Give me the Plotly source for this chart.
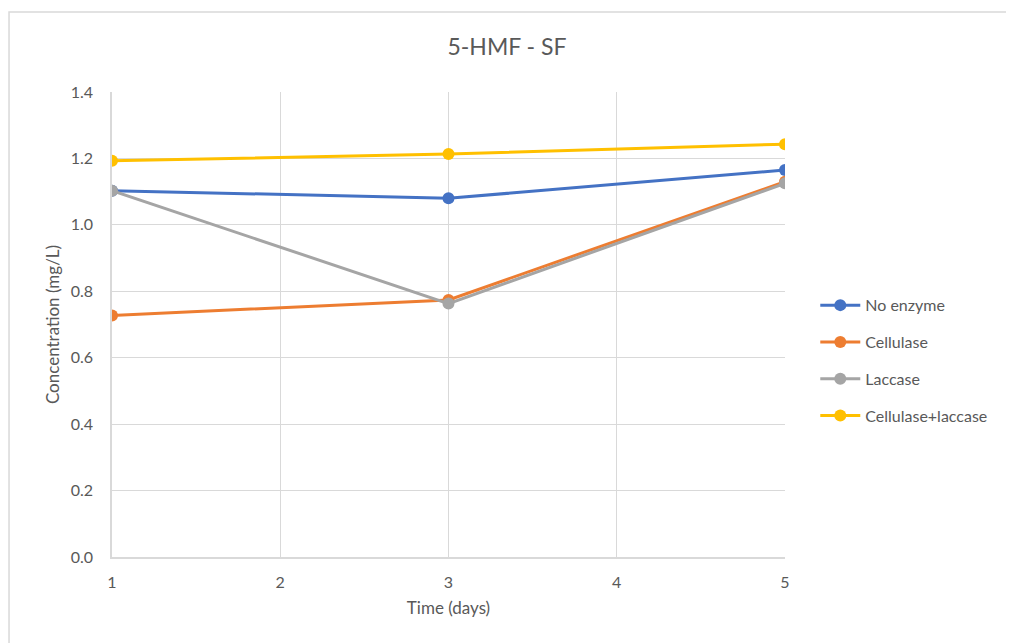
import plotly.graph_objects as go

days = [1, 3, 5]
no_enzyme = [1.103, 1.080, 1.165]
cellulase = [0.727, 0.774, 1.130]
laccase = [1.103, 0.763, 1.125]
cell_lacc = [1.193, 1.213, 1.243]

series = [
    ("No enzyme", no_enzyme, "#4472C4"),
    ("Cellulase", cellulase, "#ED7D31"),
    ("Laccase", laccase, "#A5A5A5"),
    ("Cellulase+laccase", cell_lacc, "#FFC000"),
]

FONT = "Lato, 'Open Sans', sans-serif"
GREY = "#595959"

fig = go.Figure()
for name, vals, col in series:
    fig.add_trace(go.Scatter(
        x=days, y=vals, name=name, mode="lines+markers",
        line=dict(color=col, width=3),
        marker=dict(color=col, size=12),
        legendgroup=name,
    ))

fig.update_layout(
    width=1014, height=643,
    margin=dict(l=104, r=237, t=84, b=94),
    paper_bgcolor="white", plot_bgcolor="white",
    font=dict(family=FONT, color=GREY, size=16),
    title=dict(text="5-HMF - SF", x=(507 - 8) / 1014, xref="container", xanchor="center",
               y=1 - 39 / 643, yanchor="middle",
               font=dict(size=23, color=GREY, family=FONT)),
    xaxis=dict(range=[1, 5], tickvals=[1, 2, 3, 4, 5], showgrid=True,
               gridcolor="#D9D9D9", gridwidth=1.3, showline=True,
               linecolor="#D9D9D9", linewidth=1.5, zeroline=False,
               ticks="outside", ticklen=10, tickcolor="rgba(0,0,0,0)",
               tickfont=dict(size=16, color=GREY),
               title=dict(text="Time (days)", font=dict(size=17, color=GREY), standoff=12)),
    yaxis=dict(range=[0, 1.4], dtick=0.2, tickformat=".1f", showgrid=True,
               gridcolor="#D9D9D9", gridwidth=1.3, showline=True,
               linecolor="#D9D9D9", linewidth=1.5, zeroline=False,
               ticks="outside", ticklen=14, tickcolor="rgba(0,0,0,0)",
               tickfont=dict(size=16, color=GREY),
               title=dict(text="Concentration (mg/L)", font=dict(size=17, color=GREY), standoff=7)),
    legend=dict(x=1.045, y=0.578, xanchor="left", yanchor="top",
                font=dict(size=16, color=GREY), tracegroupgap=13,
                traceorder="grouped", itemwidth=40),
    showlegend=True,
    shapes=[dict(type="rect", xref="paper", yref="paper",
                 x0=-0.153, x1=1.6, y0=-0.6, y1=1.172,
                 line=dict(color="#D9D9D9", width=1.5), fillcolor="rgba(0,0,0,0)",
                 layer="below")],
)

fig.write_html("out.html")
